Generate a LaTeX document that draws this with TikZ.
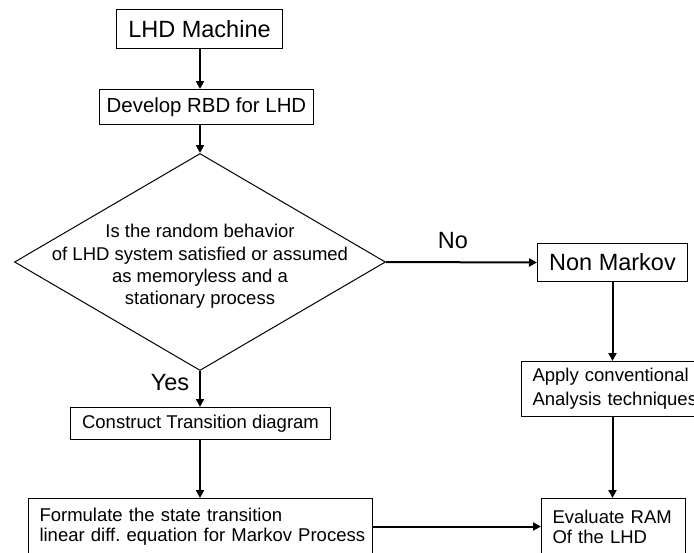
\documentclass[tikz,border=0pt]{standalone}
\usepackage{fontspec}
\setmainfont{Liberation Sans}
\usetikzlibrary{shapes.geometric,arrows.meta}
\frenchspacing
\begin{document}
\begin{tikzpicture}[x=1pt,y=-1pt,
  box/.style={draw, line width=1pt, inner sep=0pt, anchor=north west},
  bigtext/.style={font=\fontsize{23.5}{26}\selectfont},
  midtext/.style={font=\fontsize{20.4}{23}\selectfont},
  smalltext/.style={font=\fontsize{18.5}{20}\selectfont},
  multibox/.style={box, align=left, inner xsep=11pt, inner ysep=0pt},
  arr/.style={line width=2pt, -{Triangle[length=8pt,width=8pt]}},
  lbl/.style={bigtext, inner sep=0pt, anchor=base}]
  \useasboundingbox (0,0) rectangle (694,552);
  \fill[white] (0,0) rectangle (694,552);
  \clip (0,0) rectangle (694,552);

  % left column
  \node[box, bigtext, minimum width=166pt, minimum height=39pt] (lhd) at (116,9) {LHD Machine};
  \node[box, midtext, minimum width=214pt, minimum height=35pt] (rbd) at (99,89) {Develop RBD for LHD};
  \node[diamond, draw, line width=1pt, inner sep=0pt, minimum width=371pt, minimum height=217pt] (dec) at (200,262) {};
  \node[align=center, inner sep=0pt, font=\fontsize{18.5}{22.3}\selectfont] (dectext) at (200,266.5)
    {Is the random behavior\\of LHD system satisfied or assumed\\as memoryless and a\\ stationary process};
  \node[box, smalltext, minimum width=260pt, minimum height=32pt] (trans) at (70,407) {Construct Transition diagram};
  \node[multibox, smalltext, text width=322pt, minimum height=56pt] (form) at (28,498)
    {\mbox{Formulate the state transition}\\\mbox{linear diff. equation for Markov Process}};

  % right column
  \node[box, bigtext, minimum width=150pt, minimum height=38pt] (nonm) at (537,243) {Non Markov};
  \node[multibox, text width=167pt, minimum height=55pt, font=\fontsize{18.5}{24}\selectfont] (conv) at (521,361)
    {\mbox{Apply conventional}\\\mbox{Analysis techniques}};
  \node[multibox, smalltext, text width=122pt, minimum height=56pt] (ram) at (541,498)
    {\mbox{Evaluate RAM}\\\mbox{Of the LHD}};

  % branch labels
  \node[lbl] (yes) at (170,390) {Yes};
  \node[lbl] (no) at (453,248) {No};

  % connectors
  \draw[arr] (lhd.south -| dec.north) -- (rbd.north -| dec.north);
  \draw[arr] (rbd.south -| dec.north) -- (dec.north);
  \draw[arr] (dec.south) -- (trans.north -| dec.south);
  \draw[arr] (trans.south -| dec.south) -- (form.north -| dec.south);
  \draw[arr] (dec.east) -- (nonm.west);
  \draw[arr] (nonm.south) -- (conv.north -| nonm.south);
  \draw[arr] (conv.south -| nonm.south) -- (ram.north -| nonm.south);
  \draw[arr] (form.east) -- (ram.west);
\end{tikzpicture}
\end{document}
